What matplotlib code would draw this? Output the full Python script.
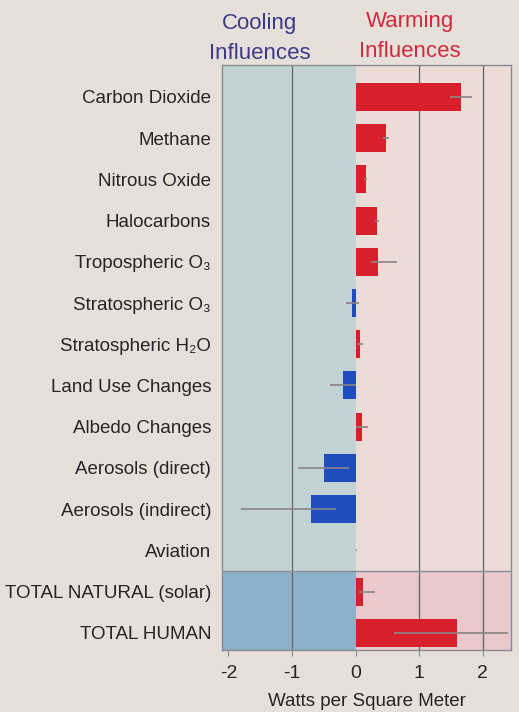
import matplotlib.pyplot as plt
import numpy as np

# --- data (W/m^2) ---
labels = ['Carbon Dioxide', 'Methane', 'Nitrous Oxide', 'Halocarbons',
          'Tropospheric O\u2083', 'Stratospheric O\u2083', 'Stratospheric H\u2082O',
          'Land Use Changes', 'Albedo Changes', 'Aerosols (direct)',
          'Aerosols (indirect)', 'Aviation', 'TOTAL NATURAL (solar)', 'TOTAL HUMAN']
values = [1.66, 0.48, 0.16, 0.34, 0.35, -0.05, 0.07, -0.20, 0.10, -0.50, -0.70, 0.01, 0.12, 1.60]
err_low = [1.49, 0.43, 0.14, 0.31, 0.25, -0.15, 0.02, -0.40, 0.00, -0.90, -1.80, 0.00, 0.06, 0.60]
err_high = [1.83, 0.53, 0.18, 0.37, 0.65, 0.05, 0.12, 0.00, 0.20, -0.10, -0.30, 0.02, 0.30, 2.40]
xticks = [-2, -1, 0, 1, 2]

fams = ['Liberation Sans', 'DejaVu Sans']
plt.rcParams['font.family'] = fams

bg = '#e7e0da'
fig = plt.figure(figsize=(5.19, 7.12), dpi=100, facecolor=bg)
ax = fig.add_axes([0.428, 0.087, 0.557, 0.822])
ax.set_facecolor(bg)

y = np.arange(len(labels))
xmin, xmax = -2.1, 2.45
ymin, ymax = 13.42, -0.78
split = 11.5
f = (ymin - split) / (ymin - ymax)  # axes fraction of the totals band

# background panels
ax.axvspan(xmin, 0, ymin=f, ymax=1, color='#c3d3d5', lw=0)
ax.axvspan(0, xmax, ymin=f, ymax=1, color='#ecdcd8', lw=0)
ax.axvspan(xmin, 0, ymin=0, ymax=f, color='#8ab3cb', lw=0)
ax.axvspan(0, xmax, ymin=0, ymax=f, color='#e9c9cc', lw=0)
ax.axhline(split, color='#8a8a90', lw=1)

for t in [-1, 1, 2]:
    ax.axvline(t, color='#6e6a6a', lw=1, zorder=1)

colors = ['#d81f2c' if v > 0 else '#1f4dbd' for v in values]
ax.barh(y, values, height=0.68, color=colors, zorder=2)

v = np.array(values)
xerr = [v - np.array(err_low), np.array(err_high) - v]
ax.errorbar(values, y, xerr=xerr, fmt='none', ecolor='#8a8486', elinewidth=1.2, capsize=0, zorder=3)

ax.set_xlim(xmin, xmax)
ax.set_ylim(ymin, ymax)
ax.set_yticks(y)
ax.set_yticklabels(labels, fontsize=13.5, color='#2a2226')
ax.set_xticks(xticks)
ax.set_xticklabels([str(t) for t in xticks], fontsize=14, color='#2a2226')
ax.tick_params(axis='y', length=0, pad=8)
ax.tick_params(axis='x', length=4, color='#8a8a90', pad=7)
ax.set_xlabel('Watts per Square Meter', fontsize=13.5, color='#2a2226', labelpad=8)
for s in ax.spines.values():
    s.set_color('#8a8a90')
    s.set_linewidth(1)

fig.text(0.50, 0.967, 'Cooling', ha='center', va='center', fontsize=16, color='#3d3a8a')
fig.text(0.50, 0.925, 'Influences', ha='center', va='center', fontsize=16, color='#3d3a8a')
fig.text(0.79, 0.970, 'Warming', ha='center', va='center', fontsize=16, color='#d22a3a')
fig.text(0.79, 0.928, 'Influences', ha='center', va='center', fontsize=16, color='#d22a3a')

fig.savefig('out.png', dpi=100, facecolor=bg)
